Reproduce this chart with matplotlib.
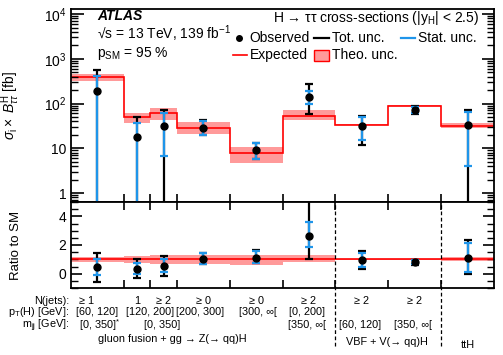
import numpy as np
import matplotlib
matplotlib.use('Agg')
import matplotlib.pyplot as plt
import matplotlib.transforms as mtransforms
from matplotlib.patches import Rectangle
from matplotlib.lines import Line2D
from matplotlib.ticker import FixedLocator, MultipleLocator, NullFormatter

plt.rcParams['font.family'] = ['Liberation Sans', 'DejaVu Sans']
plt.rcParams['mathtext.fontset'] = 'custom'
plt.rcParams['mathtext.rm'] = 'Liberation Sans'
plt.rcParams['mathtext.it'] = 'Liberation Sans:italic'
plt.rcParams['mathtext.bf'] = 'Liberation Sans:bold'

# --- data (fb) ---
bin_edges = [0, 1, 1.5, 2, 3, 4, 5, 6, 7, 8]
expected = [400, 49, 60, 29, 8.0, 54, 34, 90, 31]
theo_up = [466, 60, 78, 38, 10.5, 70, 35, 92, 36]
theo_down = [324, 36, 42, 20.5, 4.6, 44, 33, 88, 28]
observed = [195, 17.5, 32, 29, 9.0, 143, 32, 72, 34]
tot_up = [375, 31.5, 41, 13, 4.0, 137, 22, 14, 39]
tot_down = [419, 31.5, 40, 9.4, 3.3, 86, 20, 15, 35]
stat_up = [225, 18.5, 31, 12, 3.8, 51, 17, 12, 32]
stat_down = [223, 17.5, 25.4, 9, 3.2, 43, 17, 12, 30]

njets_labels = ['≥ 1', '1', '≥ 2', '≥ 0', '≥ 0', '≥ 2', '≥ 2', '≥ 2', '']
pt_labels = ['[60, 120]', '[120, 200]', '', '[200, 300]', '[300, ∞[', '[0, 200]', '', '', '']
mjj_labels = ['[0, 350]$^{*}$', '', '[0, 350]', '', '', '[350, ∞[', '[60, 120]', '[350, ∞[', '']
groups = ['gluon fusion + gg → Z(→ qq)H', 'VBF + V(→ qq)H', 'ttH']

RED = '#ff0000'
BAND = '#ff9a9a'
BLUE = '#1f95ea'

edges = np.array(bin_edges)
centres = 0.5 * (edges[:-1] + edges[1:])
exp = np.array(expected)
obs = np.array(observed)

fig = plt.figure(figsize=(5.03, 3.55), dpi=100)
ax = fig.add_axes([71 / 503, 1 - 202 / 355, 423 / 503, 193 / 355])
axr = fig.add_axes([71 / 503, 1 - 288 / 355, 423 / 503, 86 / 355])

# --- main panel ---
ax.stairs(theo_up, edges, baseline=theo_down, fill=True, color=BAND, lw=0)
ax.stairs(exp, edges, color=RED, lw=1.2, baseline=None)

ymin, ymax = 0.63, 1.3e4
lo_tot = np.minimum(np.array(tot_down), obs - 1e-3)
lo_stat = np.minimum(np.array(stat_down), obs - 1e-3)
ax.errorbar(centres, obs, yerr=[lo_tot, tot_up], fmt='none', ecolor='black',
            elinewidth=1.6, capsize=3, capthick=1.6, zorder=3)
ax.errorbar(centres, obs, yerr=[lo_stat, stat_up], fmt='none', ecolor=BLUE,
            elinewidth=1.6, capsize=3, capthick=1.6, zorder=4)
ax.plot(centres, obs, 'o', color='black', ms=5, zorder=5)

ax.set_yscale('log')
ax.set_ylim(ymin, ymax)
ax.set_xlim(edges[0], edges[-1])
ax.yaxis.set_major_locator(FixedLocator([1, 10, 100, 1000, 10000]))
ax.set_yticklabels(['1', '10', '$10^2$', '$10^3$', '$10^4$'])
minors = [m * 10 ** e for e in range(-1, 5) for m in range(2, 10)]
ax.yaxis.set_minor_locator(FixedLocator(minors))
ax.yaxis.set_minor_formatter(NullFormatter())
ax.set_xticks(edges[1:-1])
ax.set_xticklabels([])
ax.tick_params(axis='y', which='major', direction='in', length=9, width=1.2,
               left=True, right=True, labelsize=10)
ax.tick_params(axis='y', which='minor', direction='in', length=5, width=1.0,
               left=True, right=True)
ax.tick_params(axis='x', which='major', direction='in', length=6, width=1.2,
               bottom=True, top=False)
ax.tick_params(axis='x', which='minor', bottom=False, top=False)
for s in ax.spines.values():
    s.set_linewidth(1.3)
ax.set_ylabel(r'$\sigma_{\rm i}\times$ $B^{\rm H}_{\tau\tau}$ [fb]', fontsize=10)
ax.yaxis.set_label_coords(-0.115, 0.5)

# texts
ax.text(0.062, 0.965, 'ATLAS', transform=ax.transAxes, fontsize=10,
        fontweight='bold', style='italic', va='center')
ax.text(0.062, 0.872, '\u221as = 13 TeV, 139 fb$^{-1}$',
        transform=ax.transAxes, fontsize=10, va='center')
ax.text(0.062, 0.772, r'p$_{\rm SM}$ = 95 %', transform=ax.transAxes,
        fontsize=10, va='center')
ax.text(0.965, 0.955, r'H → ττ cross-sections (|y$_{\rm H}$| < 2.5)',
        transform=ax.transAxes, fontsize=10, ha='right', va='center')

# legend drawn by hand
def px(x, y):
    return ((x - 71) / 423, (202 - y) / 193)

r1, r2 = 38, 55
ax.plot(*px(239, r1), 'o', color='black', ms=4, transform=ax.transAxes, clip_on=False)
ax.text(*px(249, r1), 'Observed', transform=ax.transAxes, fontsize=10, va='center')
ax.add_line(Line2D([px(314, r1)[0], px(329, r1)[0]], [px(0, r1)[1]] * 2,
                   color='black', lw=1.6, transform=ax.transAxes))
ax.text(*px(332, r1), 'Tot. unc.', transform=ax.transAxes, fontsize=10, va='center')
ax.add_line(Line2D([px(401, r1)[0], px(415, r1)[0]], [px(0, r1)[1]] * 2,
                   color=BLUE, lw=1.6, transform=ax.transAxes))
ax.text(*px(418, r1), 'Stat. unc.', transform=ax.transAxes, fontsize=10, va='center')
ax.add_line(Line2D([px(233, r2)[0], px(247, r2)[0]], [px(0, r2)[1]] * 2,
                   color=RED, lw=1.2, transform=ax.transAxes))
ax.text(*px(250, r2), 'Expected', transform=ax.transAxes, fontsize=10, va='center')
x0, y0 = px(314, 61)
x1, y1 = px(329, 50)
ax.add_patch(Rectangle((x0, y0), x1 - x0, y1 - y0, transform=ax.transAxes,
                       facecolor=BAND, edgecolor=RED, lw=1.0))
ax.text(*px(332, r2), 'Theo. unc.', transform=ax.transAxes, fontsize=10, va='center')

# --- ratio panel ---
ratio = obs / exp
rb_up = np.array(theo_up) / exp
rb_dn = np.array(theo_down) / exp
axr.stairs(rb_up, edges, baseline=rb_dn, fill=True, color=BAND, lw=0)
axr.axhline(1, color=RED, lw=1.2)
axr.errorbar(centres, ratio, yerr=[np.array(tot_down) / exp, np.array(tot_up) / exp],
             fmt='none', ecolor='black', elinewidth=1.6, capsize=3, capthick=1.6, zorder=3)
axr.errorbar(centres, ratio, yerr=[np.array(stat_down) / exp, np.array(stat_up) / exp],
             fmt='none', ecolor=BLUE, elinewidth=1.6, capsize=3, capthick=1.6, zorder=4)
axr.plot(centres, ratio, 'o', color='black', ms=5, zorder=5)
axr.set_ylim(-1, 5)
axr.set_xlim(edges[0], edges[-1])
axr.yaxis.set_major_locator(FixedLocator([0, 2, 4]))
axr.yaxis.set_minor_locator(MultipleLocator(0.5))
axr.set_xticks(edges[1:-1])
axr.set_xticklabels([])
axr.tick_params(axis='y', which='major', direction='in', length=8, width=1.2,
                left=True, right=True, labelsize=10)
axr.tick_params(axis='y', which='minor', direction='in', length=5, width=1.0,
                left=True, right=True)
axr.tick_params(axis='x', direction='in', length=6, width=1.2, bottom=True, top=True)
for s in axr.spines.values():
    s.set_linewidth(1.3)
axr.set_ylabel('Ratio to SM', fontsize=9.5)
axr.yaxis.set_label_coords(-0.115, 0.5)

# dashed separators between production modes
sep = mtransforms.blended_transform_factory(axr.transData, axr.transAxes)
for xe in (edges[6], edges[8]):
    axr.add_line(Line2D([xe, xe], [-0.68, 1], transform=sep, color='black',
                        lw=0.9, ls=(0, (3, 2)), clip_on=False))

# category labels below the ratio panel
lab = mtransforms.blended_transform_factory(axr.transData, fig.transFigure)
def fy(y):
    return 1 - y / 355

FS = 7.8
rows = (301, 312, 326)
for txt, yy in zip(('N(jets):', 'p$_{\\rm T}$(H) [GeV]:', 'm$_{\\rm jj}$ [GeV]:'), rows):
    axr.text(-0.03, fy(yy), txt, transform=lab, fontsize=FS, ha='right', va='center')

nudge_nj = [-0.2, 0, 0, 0, 0, 0, 0, 0, 0]
for c, t, d in zip(centres, njets_labels, nudge_nj):
    axr.text(c + d, fy(rows[0]), t, transform=lab, fontsize=FS, ha='center', va='center')
pt_pos = [centres[0], edges[2], 0, centres[3] - 0.05, centres[4] + 0.04, centres[5] - 0.03]
for x, t in zip(pt_pos, pt_labels):
    if t:
        axr.text(x, fy(rows[1]), t, transform=lab, fontsize=FS, ha='center', va='center')
for c, t in zip(centres, mjj_labels):
    if t:
        axr.text(c + (0.05 if '*' in t else -0.03), fy(rows[2] - 1), t, transform=lab,
                 fontsize=FS, ha='center', va='center')

axr.text(1.91, fy(338.5), groups[0], transform=lab, fontsize=FS, ha='center', va='center')
axr.text(5.97, fy(342), groups[1], transform=lab, fontsize=FS, ha='center', va='center')
axr.text(centres[8], fy(345), groups[2], transform=lab, fontsize=FS, ha='center', va='center')

fig.savefig('out.png', dpi=100)
